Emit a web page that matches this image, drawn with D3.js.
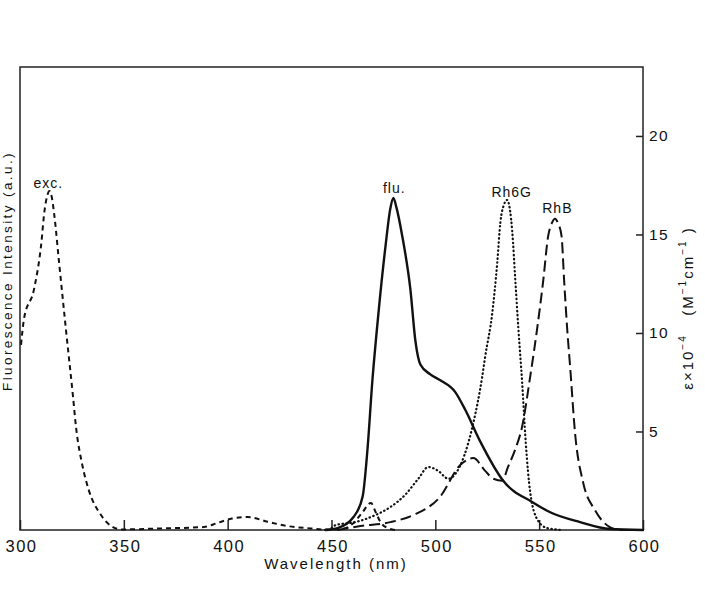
<!DOCTYPE html>
<html>
<head>
<meta charset="utf-8">
<script src="https://cdn.jsdelivr.net/npm/d3@7"></script>
<style>
    body { margin: 0; background: #fff; }
    text { font-family: "Liberation Sans", Arial, sans-serif; fill: #111; }
    .tickLabel { font-size: 16.5px; letter-spacing: 1.5px; }
    .curveLabel { font-size: 14px; letter-spacing: 1px; }
    .axisTitle { font-size: 13.5px; letter-spacing: 2.4px; }
</style>
</head>
<body>
<div id="chart"></div>
<script>

// wavelength (nm) / value pairs
const excitation = [[300.5,9.4],[301.9,10.7],[306.7,12.2],[310.1,14.4],[311.8,16.2],[313.2,17.0],[314.2,17.2],[315.3,16.9],[316.5,16.0],
    [318.8,13.6],[322.1,10.2],[325.5,6.8],[327,5.2],[330,3.3],[333.2,2.0],[339,0.76],[344.7,0.15],[349,0.03],[368,0.08],[388.5,0.15],
    [395.2,0.36],[402,0.58],[409.6,0.66],[419.2,0.42],[428.8,0.2],[440,0.08],[446,0.02],[455,0.05],[460.6,0.36],[464.9,0.9],
    [469,1.37],[471.3,0.9],[473.6,0.4],[477,0.1],[480.8,0]];

const fluorescence = [[447,0],[453,0.1],[460.6,0.66],[465,1.7],[467.3,4.06],[469.7,7.6],[472.6,11.0],[476,14.4],[478.3,16.3],
    [479.8,16.85],[481.2,16.4],[484.1,14.9],[488,12.2],[490.4,9.6],[492.8,8.4],[497.6,7.9],[502.4,7.6],[509.6,7.0],[514.4,6.1],
    [521.6,4.5],[532.7,2.5],[547,1.4],[555.3,0.9],[569.7,0.4],[584,0.05],[600,0]];

const rh6g = [[450,0.1],[452,0.25],[461.5,0.4],[471.2,0.76],[478.4,1.17],[485.6,1.8],[491.8,2.6],[496.6,3.2],[501.4,3.0],
    [506.3,2.6],[510,2.9],[514,3.8],[518,5.3],[522.6,7.8],[524,8.8],[527.4,11.0],[529.8,13.55],[531.3,15.6],[533,16.5],
    [534.6,16.75],[536,16.2],[537,15.2],[538.5,12.7],[540,10.2],[541.8,7.5],[543.5,4.5],[545.7,1.9],[549.3,0.5],[553.8,0.1],[561.5,0]];

const rhb = [[452.9,0],[464,0.2],[478.4,0.4],[489.4,0.76],[502.4,1.7],[512,3.3],[518.3,3.65],[524,3.0],[528,2.6],[532.2,2.5],
    [535,3.2],[538.5,4.1],[541.7,5.2],[545.7,7.8],[549,10.2],[552,12.7],[554.3,14.9],[556.2,15.6],[557.6,15.8],[559,15.6],
    [560.8,14.9],[562,12.7],[563.5,10.2],[564.9,8.3],[567.3,4.9],[571.2,2.4],[576.9,1.0],[584,0.15],[589,0],[600,0]];

const xTicks = [300, 350, 400, 450, 500, 550, 600];
const yTicks = [5, 10, 15, 20];

const curveLabels = [
    { text: "exc.", wl: 313.9, y: 188 },
    { text: "flu.", wl: 480.5, y: 193 },
    { text: "Rh6G", wl: 537, y: 197 },
    { text: "RhB", wl: 559, y: 213 }
];

class SpectraChart {

    constructor(_parentElement) {
        this.parentElement = _parentElement;
        this.margin = { top: 67, right: 62, bottom: 65, left: 20 };
        this.width = 705 - this.margin.left - this.margin.right;
        this.height = 595 - this.margin.top - this.margin.bottom;
        this.initVis();
    }

    initVis() {
        let vis = this;

        vis.svg = d3.select("#" + vis.parentElement).append("svg")
            .attr("width", 705)
            .attr("height", 595);

        vis.g = vis.svg.append("g")
            .attr("transform", "translate(" + vis.margin.left + "," + vis.margin.top + ")");

        vis.x = d3.scaleLinear().domain([300, 600]).range([0, vis.width]);
        vis.y = d3.scaleLinear().domain([0, 23.5]).range([vis.height, 0]);

        vis.drawAxes();
        vis.drawCurves();
    }

    drawAxes() {
        let vis = this;

        // frame
        vis.g.append("rect")
            .attr("width", vis.width)
            .attr("height", vis.height)
            .style("fill", "none")
            .style("stroke", "#222")
            .style("stroke-width", 1.5);

        let xAxis = vis.g.append("g")
            .attr("transform", "translate(0," + vis.height + ")")
            .call(d3.axisBottom(vis.x).tickValues(xTicks).tickFormat(d3.format("d"))
                .tickSizeInner(-10).tickSizeOuter(0).tickPadding(10));
        xAxis.select(".domain").remove();
        xAxis.selectAll("line").style("stroke", "#222").style("stroke-width", 1.5);
        xAxis.selectAll("text").attr("class", "tickLabel").attr("dx", "1px");

        let yAxis = vis.g.append("g")
            .attr("transform", "translate(" + vis.width + ",0)")
            .call(d3.axisRight(vis.y).tickValues(yTicks)
                .tickSizeInner(-7).tickSizeOuter(0).tickPadding(6));
        yAxis.select(".domain").remove();
        yAxis.selectAll("line").style("stroke", "#222").style("stroke-width", 1.5);
        yAxis.selectAll("text").attr("class", "tickLabel").style("font-size", "15.5px");
        xAxis.attr("font-family", null).attr("font-size", null);
        yAxis.attr("font-family", null).attr("font-size", null);

        vis.svg.append("text")
            .attr("class", "axisTitle")
            .attr("x", 336)
            .attr("y", 569)
            .attr("text-anchor", "middle")
            .style("font-size", "15px")
            .style("letter-spacing", "2px")
            .text("Wavelength (nm)");

        vis.svg.append("text")
            .attr("class", "axisTitle")
            .attr("transform", "translate(12,271) rotate(-90)")
            .attr("text-anchor", "middle")
            .text("Fluorescence Intensity (a.u.)");

        let right = vis.svg.append("text")
            .attr("class", "axisTitle")
            .attr("transform", "translate(693,308) rotate(-90)")
            .attr("text-anchor", "middle")
            .style("font-size", "15px")
            .style("letter-spacing", "2px")
            .style("white-space", "pre");
        right.append("tspan").text("\u03b5\u00d710");
        right.append("tspan").attr("dy", -7).style("font-size", "10px").text("\u22124");
        right.append("tspan").attr("dy", 7).text("   (M");
        right.append("tspan").attr("dy", -7).style("font-size", "10px").text("\u22121");
        right.append("tspan").attr("dy", 7).text("cm");
        right.append("tspan").attr("dy", -7).style("font-size", "10px").text("\u22121");
        right.append("tspan").attr("dy", 7).text(" )");
    }

    drawCurves() {
        let vis = this;

        let line = d3.line()
            .x(d => vis.x(d[0]))
            .y(d => vis.y(d[1]))
            .curve(d3.curveMonotoneX);

        let series = [
            { data: excitation, dash: "5,4", width: 2, cap: "butt" },
            { data: rhb, dash: "11,5", width: 2, cap: "butt" },
            { data: rh6g, dash: "0.5,3.5", width: 2.2, cap: "round" },
            { data: fluorescence, dash: null, width: 2.4, cap: "round" }
        ];

        vis.g.selectAll(".spectrum")
            .data(series)
            .enter()
            .append("path")
            .attr("class", "spectrum")
            .attr("d", d => line(d.data))
            .style("fill", "none")
            .style("stroke", "#111")
            .style("stroke-width", d => d.width)
            .style("stroke-linecap", d => d.cap)
            .style("stroke-dasharray", d => d.dash);

        vis.g.selectAll(".curveLabel")
            .data(curveLabels)
            .enter()
            .append("text")
            .attr("class", "curveLabel")
            .attr("x", d => vis.x(d.wl) - 0.5)
            .attr("y", d => d.y - vis.margin.top)
            .attr("text-anchor", "middle")
            .text(d => d.text);
    }
}

new SpectraChart("chart");

</script>
</body>
</html>
